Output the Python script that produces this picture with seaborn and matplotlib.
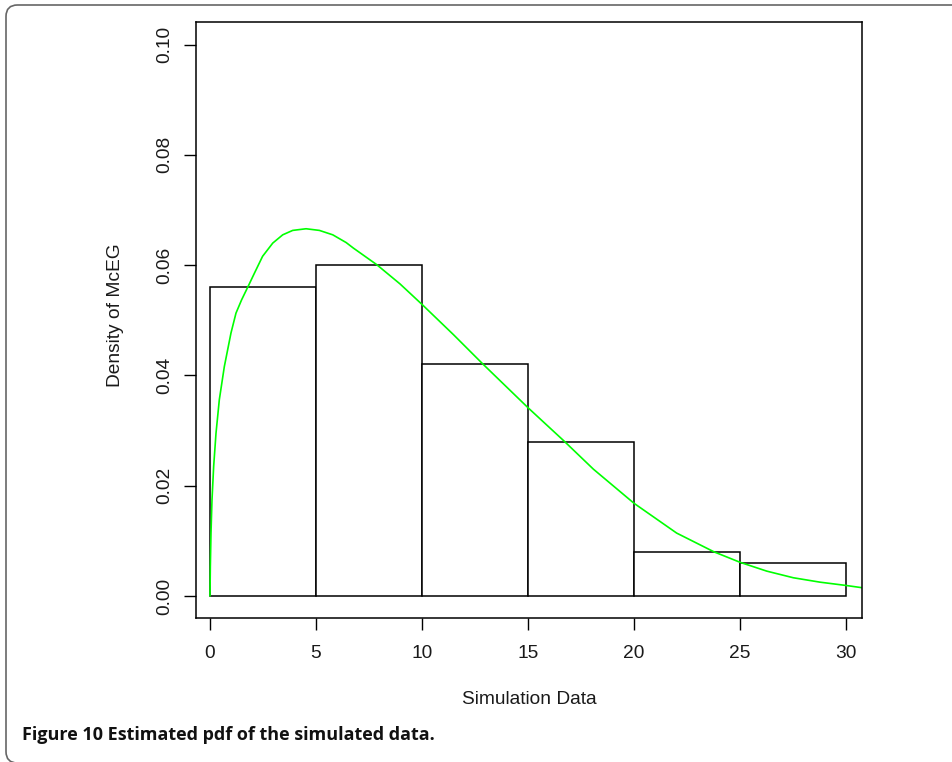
import matplotlib
matplotlib.use("Agg")
import matplotlib.pyplot as plt
import seaborn as sns
import numpy as np
import pandas as pd
from matplotlib.patches import FancyBboxPatch

# ---- data ----
bin_edges = [0, 5, 10, 15, 20, 25, 30]
bin_density = [0.056, 0.060, 0.042, 0.028, 0.008, 0.006]

curve_x = [0.0, 0.016, 0.047, 0.094, 0.173, 0.283, 0.44, 0.676, 0.99, 1.226, 1.49,
           1.78, 2.09, 2.48, 2.96, 3.43, 3.90, 4.53, 5.16, 5.79, 6.42, 6.76, 7.86,
           8.96, 10.02, 11.48, 12.86, 15.01, 16.67, 18.08, 20.0, 22.01, 23.77, 25.0,
           26.26, 27.51, 28.77, 30.0, 30.74]
curve_y = [0.0, 0.0053, 0.0114, 0.0174, 0.0235, 0.0295, 0.0356, 0.0416, 0.0477, 0.0513,
           0.0537, 0.0560, 0.0585, 0.0616, 0.0640, 0.0655, 0.0663, 0.0666, 0.0663,
           0.0655, 0.0641, 0.0631, 0.0601, 0.0566, 0.0528, 0.0474, 0.0421, 0.0341,
           0.0282, 0.0230, 0.0168, 0.0114, 0.0080, 0.0061, 0.0045, 0.0033, 0.0025,
           0.0019, 0.0015]

x_ticks = [0, 5, 10, 15, 20, 25, 30]
y_ticks = [0.00, 0.02, 0.04, 0.06, 0.08, 0.10]
x_label = "Simulation Data"
y_label = "Density of McEG"
caption = "Figure 10 Estimated pdf of the simulated data."

sns.set_theme(style="white")
plt.rcParams["font.family"] = ["Liberation Sans", "DejaVu Sans"]

FS = 13.8
fig = plt.figure(figsize=(9.52, 7.62), dpi=100)
ax = fig.add_axes([196 / 952, 1 - 618 / 762, (862 - 196) / 952, (618 - 22) / 762])

centers = [(bin_edges[i] + bin_edges[i + 1]) / 2 for i in range(len(bin_density))]
hist_df = pd.DataFrame({"x": centers, "w": bin_density})
sns.histplot(data=hist_df, x="x", weights="w", bins=bin_edges, stat="count",
             fill=True, color="white", edgecolor="black", linewidth=1.1, alpha=1,
             ax=ax)

curve_df = pd.DataFrame({"x": curve_x, "y": curve_y})
sns.lineplot(data=curve_df, x="x", y="y", color="#00FF00", linewidth=1.2,
             sort=False, ax=ax)

ax.set_xlim(-0.66, 30.75)
ax.set_ylim(-0.0040, 0.1041)
ax.set_xticks(x_ticks)
ax.set_xticklabels([str(t) for t in x_ticks])
ax.set_yticks(y_ticks)
ax.set_yticklabels([f"{t:.2f}" for t in y_ticks], rotation=90, va="center")
ax.tick_params(axis="both", which="major", direction="out", length=8.6, width=1.0,
               color="black", labelsize=FS, labelcolor="#1a1a1a")
ax.tick_params(axis="x", pad=11)
ax.tick_params(axis="y", pad=8)
ax.xaxis.set_ticks_position("bottom")
ax.yaxis.set_ticks_position("left")
for s in ax.spines.values():
    s.set_visible(True)
    s.set_color("black")
    s.set_linewidth(1.1)
ax.set_xlabel("")
ax.set_ylabel("")
ax.grid(False)

fig.text(529 / 952, 1 - 700 / 762, x_label, ha="center", va="center", fontsize=FS,
         color="#1a1a1a")
fig.text(116 / 952, 1 - 315 / 762, y_label, ha="center", va="center", fontsize=FS,
         rotation=90, color="#1a1a1a")
fig.text(22 / 952, 1 - 735 / 762, caption, ha="left", va="center", fontsize=13,
         fontweight="bold", family=["Open Sans", "DejaVu Sans"], color="#111111")

border = FancyBboxPatch((6 / 952, -1 / 762), 1.2, (757 + 1) / 762,
                        boxstyle="round,pad=0,rounding_size=0.012",
                        transform=fig.transFigure, fill=False, edgecolor="#666666",
                        linewidth=1.2, clip_on=False, mutation_aspect=952 / 762)
fig.patches.append(border)

fig.savefig("out.png", dpi=100)
